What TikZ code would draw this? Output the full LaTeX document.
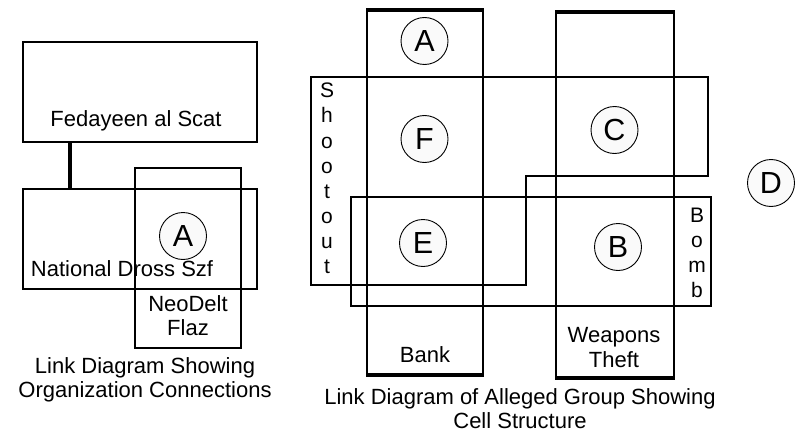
\documentclass[tikz,border=0pt]{standalone}
\usepackage{fontspec}
\setmainfont{Liberation Sans}
\begin{document}
\begin{tikzpicture}[x=1pt,y=-1pt,
  thickbox/.style={draw=black,line width=2.6pt},
  thinbox/.style={draw=black,line width=1.3pt},
  capline/.style={line width=4.2pt},
  cell/.style={circle,draw=black,line width=0.9pt,fill=white!96!gray,minimum size=47pt,inner sep=0pt,font=\fontsize{30.5}{30}\selectfont},
  lbl/.style={anchor=base,inner sep=0pt,font=\fontsize{22}{24}\selectfont},
  captxt/.style={anchor=base,inner sep=0pt,font=\fontsize{22}{24}\selectfont},
  stk/.style={anchor=base,inner sep=0pt,font=\fontsize{21}{22}\selectfont}]
\useasboundingbox (0,0) rectangle (797,433);
% ---------- left diagram ----------
\draw[thickbox] (23,42) rectangle (257,142);
\draw[thickbox] (23,189) rectangle (257,289);
\draw[thinbox] (135,168) rectangle (241,348);
\coordinate (c1) at (70,142);
\coordinate (c2) at (70,189);
\draw[line width=3.5pt] (c1) -- (c2);
\node[lbl] (fed) at (136,127) {Fedayeen al Scat};
\node[lbl] (nds) at (122,276) {National Dross Szf};
\node[lbl] (neo1) at (188,311) {NeoDelt};
\node[lbl] (neo2) at (188,335) {Flaz};
\node[cell] (la) at (183,236) {A};
\node[captxt] (capl1) at (145,373) {Link Diagram Showing};
\node[captxt] (capl2) at (145,397) {Organization Connections};
% ---------- right diagram ----------
% bank column
\draw[thickbox] (367,10) rectangle (483,375);
\draw[capline] (366,10) -- (484,10);
\draw[capline] (366,375) -- (484,375);
% weapons column
\draw[thickbox] (556,12) rectangle (674,378);
\draw[capline] (555,12) -- (675,12);
\draw[capline] (555,378) -- (675,378);
% shootout L-shape
\draw[thickbox] (311,77) -- (708,77) -- (708,176) -- (526,176) -- (526,285) -- (311,285) -- cycle;
% bomb box
\draw[thinbox] (351,197) rectangle (711,306);
% cells
\node[cell] (ca) at (424.5,41) {A};
\node[cell] (cf) at (424.5,139) {F};
\node[cell] (ce) at (423,243) {E};
\node[cell] (cc) at (614.5,130) {C};
\node[cell] (cb) at (618,247) {B};
\node[cell] (cd) at (771,183) {D};
% labels
\foreach \ch [count=\i from 0] in {S,h,o,o,t,o,u,t}
  \node[stk] (sh\i) at (327,98+25*\i) {\ch};
\foreach \ch [count=\i from 0] in {B,o,m,b}
  \node[stk] (bo\i) at (697,222+25*\i) {\ch};
\node[lbl] (bank) at (425,362) {Bank};
\node[lbl] (wp1) at (614,342) {Weapons};
\node[lbl] (wp2) at (614,367) {Theft};
\node[captxt] (capr1) at (520,404) {Link Diagram of Alleged Group Showing};
\node[captxt] (capr2) at (520,428) {Cell Structure};
\end{tikzpicture}
\end{document}
